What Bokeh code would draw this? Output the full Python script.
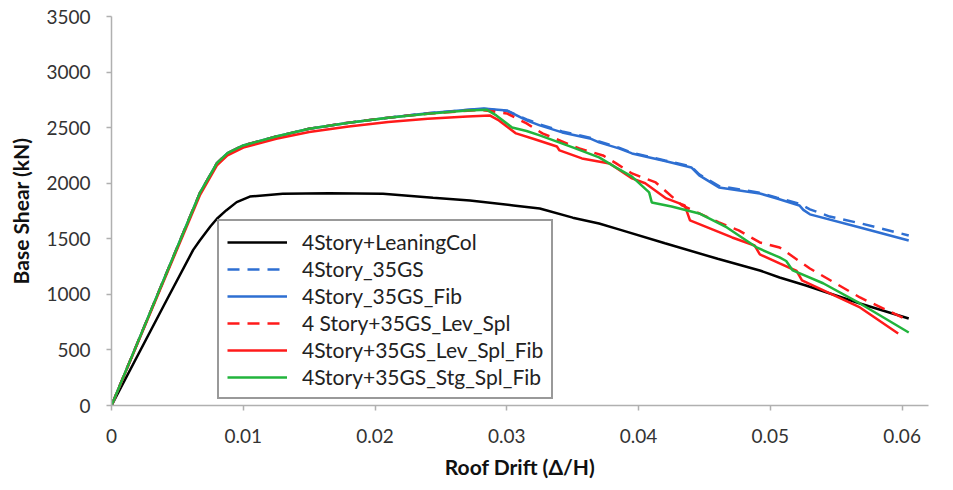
from bokeh.plotting import figure
from bokeh.models import Range1d, FixedTicker, NumeralTickFormatter, Legend, LegendItem
from bokeh.embed import file_html
from bokeh.resources import INLINE

# ---- data ----
x_lean = [0, 0.00417, 0.0062, 0.0067, 0.0075, 0.008, 0.0087, 0.0095, 0.0105, 0.013, 0.0165, 0.0206,
          0.0244, 0.0272, 0.0305, 0.0325, 0.035, 0.037, 0.0385, 0.042, 0.046, 0.0492, 0.0507,
          0.0527, 0.0568, 0.0605]
y_lean = [0, 945, 1400, 1485, 1610, 1680, 1755, 1830, 1880, 1905, 1910, 1905,
          1870, 1845, 1800, 1773, 1690, 1638, 1585, 1460, 1320, 1215, 1152,
          1080, 918, 783]

x_35gs_fib = [0, 0.0035, 0.0067, 0.008, 0.0088, 0.010, 0.0125, 0.015, 0.018, 0.021, 0.024, 0.0282,
              0.030, 0.0315, 0.0325, 0.0342, 0.0363, 0.037, 0.0385, 0.0395, 0.042, 0.0440, 0.0446,
              0.0461, 0.0492, 0.0505, 0.0522, 0.0525, 0.053, 0.0568, 0.0605]
y_35gs_fib = [0, 1000, 1910, 2180, 2270, 2340, 2420, 2490, 2545, 2590, 2630, 2673,
              2655, 2565, 2520, 2457, 2403, 2367, 2313, 2268, 2200, 2142, 2070,
              1962, 1908, 1863, 1800, 1760, 1720, 1602, 1485]

x_35gs = [0, 0.0035, 0.0067, 0.008, 0.0088, 0.010, 0.0125, 0.015, 0.018, 0.021, 0.024, 0.0282,
          0.030, 0.0315, 0.0325, 0.0342, 0.0363, 0.037, 0.0385, 0.0395, 0.042, 0.0440, 0.0446,
          0.0461, 0.0492, 0.0505, 0.0522, 0.053, 0.0545, 0.0568, 0.0605]
y_35gs = [0, 1000, 1910, 2180, 2270, 2340, 2420, 2490, 2545, 2590, 2630, 2670,
          2650, 2575, 2530, 2465, 2410, 2375, 2320, 2275, 2205, 2150, 2080,
          1975, 1915, 1870, 1815, 1765, 1700, 1640, 1530]

x_lev_spl = [0, 0.0035, 0.0067, 0.008, 0.0088, 0.010, 0.0125, 0.015, 0.018, 0.021, 0.024, 0.028,
             0.030, 0.0315, 0.0327, 0.0355, 0.0373, 0.0383, 0.0395, 0.0413, 0.0433, 0.0461,
             0.0476, 0.0492, 0.0507, 0.053, 0.0568, 0.0605]
y_lev_spl = [0, 1000, 1910, 2180, 2270, 2340, 2420, 2490, 2545, 2590, 2625, 2660,
             2628, 2538, 2448, 2313, 2250, 2178, 2088, 2007, 1800, 1647,
             1575, 1467, 1422, 1233, 972, 765]

x_lev_spl_fib = [0, 0.0035, 0.0067, 0.008, 0.0088, 0.010, 0.0125, 0.015, 0.018, 0.021, 0.024, 0.027,
                 0.0287, 0.0294, 0.0307, 0.032, 0.0338, 0.0340, 0.0357, 0.0378, 0.0395, 0.0405,
                 0.0421, 0.0435, 0.0439, 0.0471, 0.0488, 0.0492, 0.0507, 0.0520, 0.0524, 0.0568, 0.0597]
y_lev_spl_fib = [0, 990, 1890, 2160, 2250, 2320, 2400, 2460, 2510, 2550, 2580, 2600,
                 2610, 2565, 2448, 2400, 2330, 2295, 2223, 2178, 2043, 2000,
                 1863, 1800, 1665, 1512, 1440, 1360, 1278, 1210, 1125, 882, 648]

x_stg_spl_fib = [0, 0.0035, 0.0067, 0.008, 0.0088, 0.010, 0.0125, 0.015, 0.018, 0.021, 0.024, 0.027,
                 0.0285, 0.0292, 0.0304, 0.0315, 0.0325, 0.035, 0.037, 0.0383, 0.0395, 0.0408,
                 0.041, 0.0425, 0.0446, 0.0467, 0.049, 0.0507, 0.0512, 0.0517, 0.054, 0.0568, 0.0605]
y_stg_spl_fib = [0, 1000, 1910, 2180, 2270, 2340, 2420, 2490, 2545, 2590, 2625, 2655,
                 2660, 2610, 2502, 2470, 2430, 2322, 2232, 2140, 2060, 1917,
                 1827, 1790, 1728, 1602, 1420, 1332, 1300, 1215, 1100, 918, 657]

x_ticks = [0, 0.01, 0.02, 0.03, 0.04, 0.05, 0.06]
y_ticks = [0, 500, 1000, 1500, 2000, 2500, 3000, 3500]

labels = ["4Story+LeaningCol", "4Story_35GS", "4Story_35GS_Fib",
          "4 Story+35GS_Lev_Spl", "4Story+35GS_Lev_Spl_Fib", "4Story+35GS_Stg_Spl_Fib"]

FONT = "Lato"
BLUE = "#2e6fd2"
RED = "#ff1a1a"
GREEN = "#22b43c"

p = figure(width=944, height=482, output_backend="svg", toolbar_location=None,
           x_range=Range1d(0, 0.062), y_range=Range1d(0, 3500),
           min_border_left=111, min_border_right=16, min_border_top=16, min_border_bottom=77)
p.outline_line_color = None
p.xgrid.visible = False
p.ygrid.visible = False

r_lean = p.line(x_lean, y_lean, line_color="black", line_width=2.5)
r_fib = p.line(x_35gs_fib, y_35gs_fib, line_color=BLUE, line_width=2.5)
r_gs = p.line(x_35gs, y_35gs, line_color=BLUE, line_width=2.5, line_dash="12 8")
r_lsf = p.line(x_lev_spl_fib, y_lev_spl_fib, line_color=RED, line_width=2.5)
r_ls = p.line(x_lev_spl, y_lev_spl, line_color=RED, line_width=2.5, line_dash="12 8")
r_ssf = p.line(x_stg_spl_fib, y_stg_spl_fib, line_color=GREEN, line_width=2.5)

legend = Legend(items=[LegendItem(label=labels[0], renderers=[r_lean]),
                       LegendItem(label=labels[1], renderers=[r_gs]),
                       LegendItem(label=labels[2], renderers=[r_fib]),
                       LegendItem(label=labels[3], renderers=[r_ls]),
                       LegendItem(label=labels[4], renderers=[r_lsf]),
                       LegendItem(label=labels[5], renderers=[r_ssf])],
                location=(106, 6))
legend.margin = 0
legend.padding = 8
legend.spacing = 2
legend.label_height = 18
legend.glyph_height = 18
legend.glyph_width = 60
legend.label_standoff = 15
legend.label_text_font = FONT
legend.label_text_font_size = "21px"
legend.label_text_color = "#222222"
legend.border_line_color = "#333333"
legend.border_line_width = 2
legend.background_fill_color = "white"
legend.background_fill_alpha = 1.0
p.add_layout(legend, "center")

for ax in (p.xaxis[0], p.yaxis[0]):
    ax.axis_line_color = "#b0b0b0"
    ax.axis_line_width = 1.5
    ax.major_tick_line_color = "#b0b0b0"
    ax.major_tick_line_width = 1.5
    ax.major_tick_in = 0
    ax.major_tick_out = 5
    ax.minor_tick_line_color = None
    ax.major_label_text_font = FONT
    ax.major_label_text_font_size = "19px"
    ax.major_label_text_color = "#333333"
    ax.axis_label_text_font = FONT
    ax.axis_label_text_font_size = "21px"
    ax.axis_label_text_font_style = "bold"
    ax.axis_label_text_color = "#111111"

p.xaxis[0].ticker = FixedTicker(ticks=x_ticks)
p.yaxis[0].ticker = FixedTicker(ticks=y_ticks)
p.xaxis[0].formatter = NumeralTickFormatter(format="0.[00]")
p.yaxis[0].formatter = NumeralTickFormatter(format="0")
p.xaxis[0].axis_label = "Roof Drift (Δ/H)"
p.yaxis[0].axis_label = "Base Shear (kN)"
p.xaxis[0].major_label_standoff = 18
p.yaxis[0].major_label_standoff = 16
p.xaxis[0].axis_label_standoff = 8
p.yaxis[0].axis_label_standoff = 10

open("out.html", "w").write(file_html(p, INLINE))
